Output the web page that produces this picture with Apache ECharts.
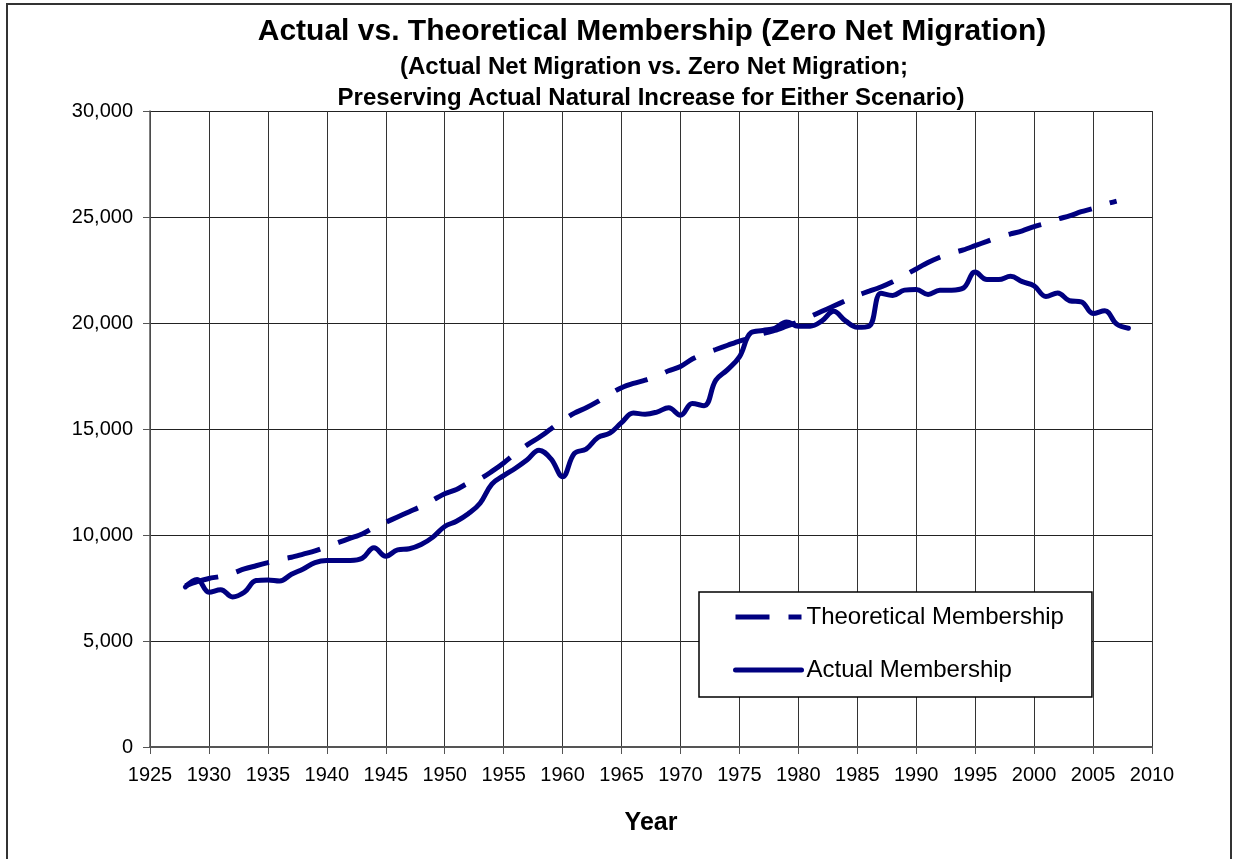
<!DOCTYPE html>
<html>
<head>
<meta charset="utf-8">
<script src="https://cdn.jsdelivr.net/npm/echarts@6/dist/echarts.min.js"></script>
<style>
  html, body { margin: 0; padding: 0; background: #fff; }
  #chart { width: 1236px; height: 859px; }
</style>
</head>
<body>
<div id="chart"></div>
<script>
const actualYears = [1928,1929,1930,1931,1932,1933,1934,1935,1936,1937,1938,1939,1940,1941,1942,1943,1944,1945,1946,1947,1948,1949,1950,1951,1952,1953,1954,1955,1956,1957,1958,1959,1960,1961,1962,1963,1964,1965,1966,1967,1968,1969,1970,1971,1972,1973,1974,1975,1976,1977,1978,1979,1980,1981,1982,1983,1984,1985,1986,1987,1988,1989,1990,1991,1992,1993,1994,1995,1996,1997,1998,1999,2000,2001,2002,2003,2004,2005,2006,2007,2008];
const actualMembership = [7550,7900,7300,7420,7080,7300,7850,7880,7830,8150,8400,8700,8800,8800,8800,8900,9400,9000,9300,9350,9550,9900,10400,10650,11000,11500,12400,12800,13150,13550,14000,13600,12750,13850,14050,14600,14800,15300,15750,15700,15800,16000,15650,16200,16100,17300,17800,18400,19550,19650,19750,20050,19850,19850,20100,20550,20100,19800,19850,21400,21300,21550,21580,21350,21550,21550,21650,22400,22050,22050,22200,21950,21750,21250,21420,21050,21000,20450,20580,19950,19750];

const theoreticalYears = [1928,1929,1930,1931,1932,1933,1934,1935,1936,1937,1938,1939,1940,1941,1942,1943,1944,1945,1946,1947,1948,1949,1950,1951,1952,1953,1954,1955,1956,1957,1958,1959,1960,1961,1962,1963,1964,1965,1966,1967,1968,1969,1970,1971,1972,1973,1974,1975,1976,1977,1978,1979,1980,1981,1982,1983,1984,1985,1986,1987,1988,1989,1990,1991,1992,1993,1994,1995,1996,1997,1998,1999,2000,2001,2002,2003,2004,2005,2006,2007];
const theoreticalMembership = [7600,7800,7950,8050,8200,8400,8550,8700,8850,8950,9100,9250,9450,9650,9850,10050,10350,10600,10850,11100,11350,11650,11950,12150,12450,12650,13000,13400,13850,14250,14600,15000,15400,15750,16000,16300,16650,16950,17150,17300,17500,17750,17950,18300,18550,18750,18950,19150,19300,19500,19650,19850,20050,20300,20550,20800,21050,21300,21500,21700,21950,22250,22550,22850,23100,23300,23450,23650,23850,24050,24200,24350,24550,24700,24900,25050,25250,25400,25600,25750];

const seriesNames = ['Theoretical Membership', 'Actual Membership'];
const titleText = 'Actual vs. Theoretical Membership (Zero Net Migration)';
const subtitleLine1 = '(Actual Net Migration vs. Zero Net Migration;';
const subtitleLine2 = 'Preserving Actual Natural Increase for Either Scenario)';
const xAxisTitle = 'Year';

const FONT = '"Liberation Sans", Arial, sans-serif';
const NAVY = '#000080';

const chart = echarts.init(document.getElementById('chart'), null, { renderer: 'canvas' });

const pair = (xs, ys) => xs.map((x, i) => [x, ys[i]]);

chart.setOption({
  animation: false,
  backgroundColor: '#ffffff',
  textStyle: { fontFamily: FONT },
  graphic: [
    { type: 'rect', z: -1, silent: true,
      shape: { x: 7, y: 4, width: 1224, height: 900 },
      style: { fill: 'none', stroke: '#333', lineWidth: 2 } },
    { type: 'text', x: 652, y: 32, silent: true,
      style: { text: titleText, font: 'bold 30px ' + FONT, fill: '#000', textAlign: 'center', textVerticalAlign: 'middle' } },
    { type: 'text', x: 654, y: 67, silent: true,
      style: { text: subtitleLine1, font: 'bold 24px ' + FONT, fill: '#000', textAlign: 'center', textVerticalAlign: 'middle' } },
    { type: 'text', x: 651, y: 98, silent: true,
      style: { text: subtitleLine2, font: 'bold 24px ' + FONT, fill: '#000', textAlign: 'center', textVerticalAlign: 'middle' } }
  ],
  legend: {
    data: seriesNames,
    orient: 'vertical',
    left: 699,
    top: 592,
    padding: [13, 28, 15, 34],
    itemGap: 29,
    itemWidth: 66,
    itemHeight: 14,
    borderColor: '#000',
    borderWidth: 1.5,
    backgroundColor: '#fff',
    lineStyle: { width: 5 },
    itemStyle: { opacity: 0 },
    textStyle: { fontSize: 24, color: '#000', fontFamily: FONT }
  },
  grid: { left: 150, right: 84, top: 111, bottom: 112, containLabel: false },
  xAxis: {
    type: 'value',
    min: 1925,
    max: 2010,
    interval: 5,
    name: xAxisTitle,
    nameLocation: 'middle',
    nameGap: 64,
    nameTextStyle: { fontSize: 25, fontWeight: 'bold', color: '#000', fontFamily: FONT },
    axisLine: { show: true, onZero: false, lineStyle: { color: '#555', width: 2 } },
    axisTick: { show: true, length: 7, lineStyle: { color: '#555', width: 1 } },
    axisLabel: { fontSize: 20, color: '#000', margin: 18, formatter: v => String(v) },
    splitLine: { show: true, lineStyle: { color: '#333', width: 1 } }
  },
  yAxis: {
    type: 'value',
    min: 0,
    max: 30000,
    interval: 5000,
    axisLine: { show: true, lineStyle: { color: '#555', width: 1.5 } },
    axisTick: { show: true, length: 7, lineStyle: { color: '#555', width: 1 } },
    axisLabel: { fontSize: 20, color: '#000', margin: 17,
      formatter: v => v.toLocaleString('en-US') },
    splitLine: { show: true, lineStyle: { color: '#222', width: 1 } }
  },
  series: [
    {
      name: seriesNames[0],
      type: 'line',
      data: pair(theoreticalYears, theoreticalMembership),
      symbol: 'none',
      smooth: 0.3,
      lineStyle: { color: NAVY, width: 5, type: [34, 19], cap: 'butt' },
      itemStyle: { color: NAVY },
      z: 3
    },
    {
      name: seriesNames[1],
      type: 'line',
      data: pair(actualYears, actualMembership),
      symbol: 'none',
      smooth: 0.4,
      lineStyle: { color: NAVY, width: 5, cap: 'round', join: 'round' },
      itemStyle: { color: NAVY },
      z: 4
    }
  ]
});
</script>
</body>
</html>
